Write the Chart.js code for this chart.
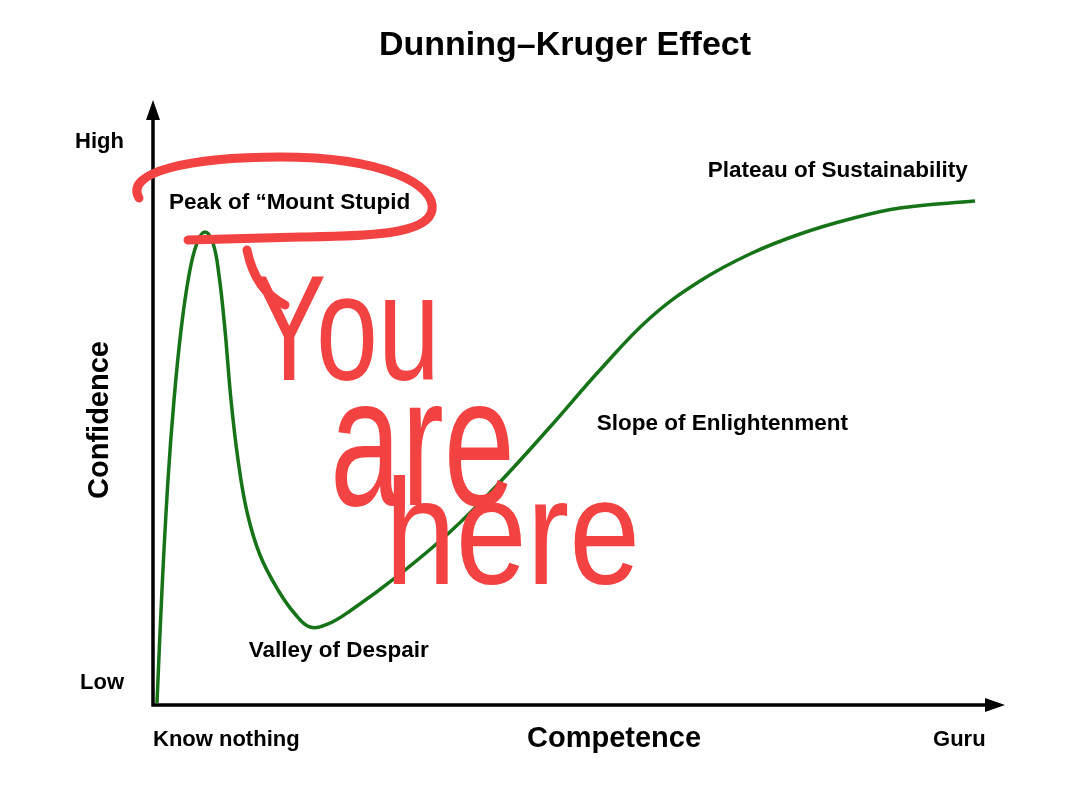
<!DOCTYPE html>
<html>
<head>
<meta charset="utf-8">
<title>Dunning–Kruger Effect</title>
<script src="https://cdn.jsdelivr.net/npm/chart.js@4.4.1/dist/chart.umd.min.js"></script>
<style>
  html, body { margin: 0; padding: 0; background: #fff; }
  #wrap { width: 1080px; height: 789px; }
</style>
</head>
<body>
<div id="wrap"><canvas id="canvas"></canvas></div>
<script>
// curve (competence 0..100, confidence 0..100)
var competence = [0.47, 1.06, 1.77, 2.48, 3.31, 4.25, 5.19, 6.14, 7.08, 7.79, 8.50, 9.21, 10.04, 11.10, 12.63, 14.76, 16.77, 18.54,
    20.66, 23.26, 29.16, 35.06, 40.97, 46.87, 52.77, 58.68, 64.58, 70.48, 76.39, 82.29, 88.19, 97.05];
var confidence = [0.33, 19.01, 37.19, 50.41, 61.98, 71.07, 76.36, 78.18, 76.36, 71.07, 61.98, 50.41, 40.50, 31.90, 24.79, 19.01, 15.04, 12.89,
    13.39, 15.54, 21.65, 28.60, 36.86, 45.95, 55.37, 63.97, 70.08, 74.55, 77.85, 80.33, 82.15, 83.31];

var yTickLabels = ['Low', 'High'];
var yTickValues = [3.6, 93];
var xTickLabels = ['Know nothing', 'Guru'];
var stageLabels = ['Peak of \u201cMount Stupid', 'Plateau of Sustainability', 'Slope of Enlightenment', 'Valley of Despair'];
var noteWords = ['You', 'are', 'here'];

var FONT = '"Liberation Sans", Arial, sans-serif';
var RED = 'rgb(242, 66, 66)';

var points = competence.map(function(c, i) { return { x: c, y: confidence[i] }; });

var decor = {
    id: 'decor',
    beforeDatasetsDraw: function(chart) {
        var ctx = chart.ctx, a = chart.chartArea;
        var xs = chart.scales.x, ys = chart.scales.y;
        ctx.save();
        // axes with arrows
        ctx.strokeStyle = '#000';
        ctx.fillStyle = '#000';
        ctx.lineWidth = 3.5;
        ctx.beginPath();
        ctx.moveTo(a.left, a.top + 14);
        ctx.lineTo(a.left, a.bottom);
        ctx.lineTo(a.right - 10, a.bottom);
        ctx.stroke();
        ctx.beginPath();
        ctx.moveTo(a.left, a.top);
        ctx.lineTo(a.left - 7, a.top + 20);
        ctx.lineTo(a.left + 7, a.top + 20);
        ctx.closePath();
        ctx.fill();
        ctx.beginPath();
        ctx.moveTo(a.right + 5, a.bottom);
        ctx.lineTo(a.right - 15, a.bottom - 7);
        ctx.lineTo(a.right - 15, a.bottom + 7);
        ctx.closePath();
        ctx.fill();

        // title
        ctx.textBaseline = 'middle';
        ctx.textAlign = 'center';
        ctx.font = 'bold 34px ' + FONT;
        ctx.fillText('Dunning\u2013Kruger Effect', 565, 46);

        // axis titles
        ctx.font = 'bold 29px ' + FONT;
        ctx.fillText('Competence', 614, a.bottom + 34);
        ctx.save();
        ctx.translate(100, 420);
        ctx.rotate(-Math.PI / 2);
        ctx.fillText('Confidence', 0, 0);
        ctx.restore();

        // end labels
        ctx.font = 'bold 22px ' + FONT;
        ctx.textAlign = 'right';
        yTickLabels.forEach(function(t, i) {
            ctx.fillText(t, a.left - 29, ys.getPixelForValue(yTickValues[i]));
        });
        ctx.textAlign = 'left';
        ctx.fillText(xTickLabels[0], a.left, a.bottom + 35);
        ctx.textAlign = 'right';
        ctx.fillText(xTickLabels[1], xs.getPixelForValue(98.3), a.bottom + 35);

        // stage labels
        var spots = [[1.9, 83.0], [65.5, 88.3], [52.4, 46.4], [11.3, 8.9]];
        ctx.font = 'bold 22.5px ' + FONT;
        ctx.textAlign = 'left';
        stageLabels.forEach(function(t, i) {
            ctx.fillText(t, xs.getPixelForValue(spots[i][0]), ys.getPixelForValue(spots[i][1]));
        });
        ctx.restore();
    },
    afterDraw: function(chart) {
        var ctx = chart.ctx;
        ctx.save();
        // hand-drawn loop around the peak label
        ctx.strokeStyle = RED;
        ctx.lineWidth = 9;
        ctx.lineCap = 'round';
        ctx.lineJoin = 'round';
        ctx.beginPath();
        ctx.moveTo(139, 198);
        ctx.bezierCurveTo(124, 172, 190, 157, 280, 157);
        ctx.bezierCurveTo(385, 157, 436, 185, 432, 210);
        ctx.bezierCurveTo(428, 236, 360, 236, 300, 237);
        ctx.lineTo(188, 240);
        ctx.stroke();
        // tail into the "Y"
        ctx.beginPath();
        ctx.moveTo(247, 250);
        ctx.quadraticCurveTo(255, 290, 285, 305);
        ctx.stroke();

        // "You are here" scribble, kept as text
        var boxes = [[252, 440, 380, 78], [330, 515, 505, 96], [385, 640, 584, 78]];
        ctx.fillStyle = RED;
        ctx.textBaseline = 'alphabetic';
        ctx.textAlign = 'left';
        noteWords.forEach(function(w, i) {
            var b = boxes[i];
            var size = b[3] / 0.52;
            ctx.font = size + 'px ' + FONT;
            var tw = ctx.measureText(w).width;
            ctx.save();
            ctx.translate(b[0], b[2]);
            ctx.scale((b[1] - b[0]) / tw, 1);
            ctx.fillText(w, 0, 0);
            ctx.restore();
        });
        ctx.restore();
    }
};

window.onload = function() {
    var ctx = document.getElementById('canvas').getContext('2d');
    window.dkChart = new Chart(ctx, {
        type: 'line',
        data: {
            datasets: [{
                label: 'Confidence',
                data: points,
                borderColor: 'rgb(22, 115, 24)',
                borderWidth: 3.5,
                pointRadius: 0,
                fill: false,
                tension: 0.4,
                clip: false
            }]
        },
        options: {
            responsive: true,
            maintainAspectRatio: false,
            animation: false,
            layout: {
                padding: { left: 153, right: 80, top: 100, bottom: 84 }
            },
            plugins: {
                legend: { display: false },
                title: { display: false },
                tooltip: { enabled: false }
            },
            scales: {
                x: { type: 'linear', min: 0, max: 100, display: false },
                y: { type: 'linear', min: 0, max: 100, display: false }
            }
        },
        plugins: [decor]
    });
};
</script>
</body>
</html>
